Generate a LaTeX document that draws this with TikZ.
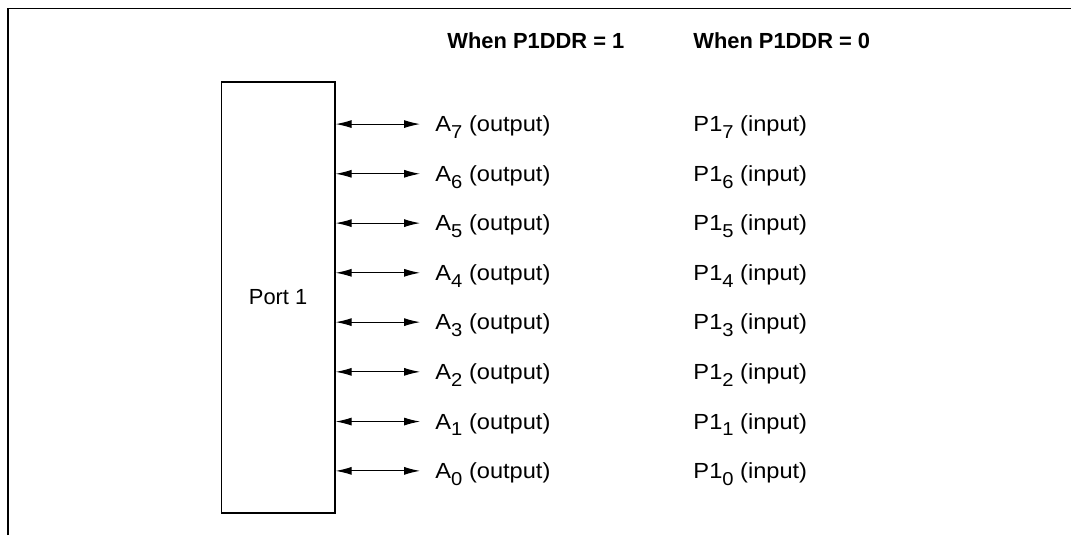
\documentclass[tikz,border=0pt]{standalone}
\usepackage{fontspec}
\setmainfont{Liberation Sans}
\newfontfamily\pinfont{Liberation Sans}[FakeStretch=1.08]
\usetikzlibrary{arrows.meta}
\newcommand\lowsub[1]{\raisebox{-0.3em}{\fontsize{14}{14}\selectfont #1}}

\begin{document}
\begin{tikzpicture}[x=1cm,y=1cm,>={Latex[length=12pt,width=6pt]},line width=0.75pt]
  \tikzstyle{port}=[draw, line width=0.9pt, minimum width=3.0cm, minimum height=11.36cm, font=\fontsize{16.4}{19}\selectfont]
  \tikzstyle{pin}=[anchor=west, inner xsep=11.2pt, inner ysep=0pt, text height=11.7pt, text depth=0pt, font=\pinfont\fontsize{16.4}{19}\selectfont]
  \tikzstyle{head}=[pin, inner xsep=0pt, font=\fontsize{16.4}{19}\selectfont\bfseries]

  \useasboundingbox (0,0) rectangle (28.226,14.100);
  \draw[line width=1.1pt] (0.21,0) -- (0.21,13.88) -- (28.226,13.88);

  \node[port] (port) at (7.33,6.26) {Port 1};

  \node[head] (head1) at (11.78,13.03) {When P1DDR = 1};
  \node[head] (head0) at (18.26,13.03) {When P1DDR = 0};

  \node[pin] (out7) at (11.07,10.83) {A\lowsub{7} (output)};
  \node[pin] (out6) at (11.07,9.52) {A\lowsub{6} (output)};
  \node[pin] (out5) at (11.07,8.22) {A\lowsub{5} (output)};
  \node[pin] (out4) at (11.07,6.91) {A\lowsub{4} (output)};
  \node[pin] (out3) at (11.07,5.61) {A\lowsub{3} (output)};
  \node[pin] (out2) at (11.07,4.30) {A\lowsub{2} (output)};
  \node[pin] (out1) at (11.07,2.99) {A\lowsub{1} (output)};
  \node[pin] (out0) at (11.07,1.69) {A\lowsub{0} (output)};

  \node[pin] (in7) at (17.87,10.83) {P1\lowsub{7} (input)};
  \node[pin] (in6) at (17.87,9.52) {P1\lowsub{6} (input)};
  \node[pin] (in5) at (17.87,8.22) {P1\lowsub{5} (input)};
  \node[pin] (in4) at (17.87,6.91) {P1\lowsub{4} (input)};
  \node[pin] (in3) at (17.87,5.61) {P1\lowsub{3} (input)};
  \node[pin] (in2) at (17.87,4.30) {P1\lowsub{2} (input)};
  \node[pin] (in1) at (17.87,2.99) {P1\lowsub{1} (input)};
  \node[pin] (in0) at (17.87,1.69) {P1\lowsub{0} (input)};

  \draw[<->] (port.east |- out7.west) -- (out7.west);
  \draw[<->] (port.east |- out6.west) -- (out6.west);
  \draw[<->] (port.east |- out5.west) -- (out5.west);
  \draw[<->] (port.east |- out4.west) -- (out4.west);
  \draw[<->] (port.east |- out3.west) -- (out3.west);
  \draw[<->] (port.east |- out2.west) -- (out2.west);
  \draw[<->] (port.east |- out1.west) -- (out1.west);
  \draw[<->] (port.east |- out0.west) -- (out0.west);
\end{tikzpicture}
\end{document}
